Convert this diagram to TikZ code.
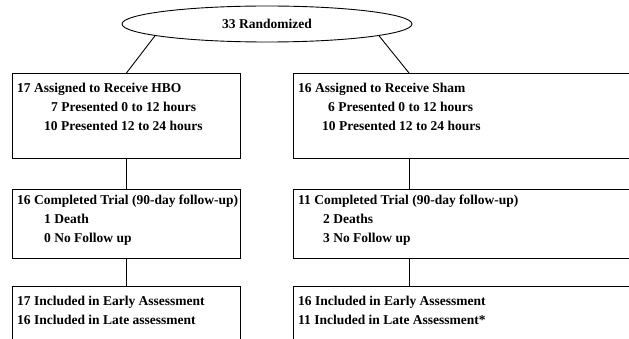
\documentclass[tikz,border=0pt]{standalone}
\usepackage{fontspec}
\setmainfont{Liberation Serif}
\usetikzlibrary{shapes.geometric}
\begin{document}
\begin{tikzpicture}[x=1pt,y=-1pt,
  box/.style={draw,line width=0.9pt,rectangle,inner sep=0pt,anchor=north west},
  txt/.style={anchor=base west,inner sep=0pt,font=\fontsize{13.5}{15}\selectfont\bfseries},
  link/.style={line width=0.9pt}]
\useasboundingbox (0,0) rectangle (629,339);
\begin{scope}
\clip (0,0) rectangle (629,339);
\node[draw,ellipse,line width=0.9pt,minimum width=290pt,minimum height=36pt,inner sep=0pt,
  font=\fontsize{13.5}{15}\selectfont\bfseries] (rand) at (267,24) {33 Randomized};
\node[box,minimum width=228pt,minimum height=85pt] (hbo) at (12,73) {};
\node[box,minimum width=340pt,minimum height=85pt] (sham) at (293,73) {};
\node[box,minimum width=228pt,minimum height=69pt] (done1) at (12,189) {};
\node[box,minimum width=340pt,minimum height=69pt] (done2) at (293,189) {};
\node[box,minimum width=228pt,minimum height=70pt] (incl1) at (12,286) {};
\node[box,minimum width=340pt,minimum height=70pt] (incl2) at (293,286) {};
\coordinate (rc) at (409,0);
\draw[link] (rand.186) -- (hbo.north);
\draw[link] (rand.354) -- (sham.north -| rc);
\draw[link] (hbo.south) -- (done1.north);
\draw[link] (done1.south) -- (incl1.north);
\draw[link] (sham.south -| rc) -- (done2.north -| rc);
\draw[link] (done2.south -| rc) -- (incl2.north -| rc);
\end{scope}
\node[txt] (t1) at (17,93) {17 Assigned to Receive HBO};
\node[txt] (t2) at (51,112) {7 Presented 0 to 12 hours};
\node[txt] (t3) at (44,131) {10 Presented 12 to 24 hours};
\node[txt] (t4) at (298,93) {16 Assigned to Receive Sham};
\node[txt] (t5) at (328,112) {6 Presented 0 to 12 hours};
\node[txt] (t6) at (322,131) {10 Presented 12 to 24 hours};
\node[txt] (t7) at (17,205) {16 Completed Trial (90-day follow-up)};
\node[txt] (t8) at (44,224) {1 Death};
\node[txt] (t9) at (44,243) {0 No Follow up};
\node[txt] (t10) at (298,205) {11 Completed Trial (90-day follow-up)};
\node[txt] (t11) at (323,224) {2 Deaths};
\node[txt] (t12) at (323,243) {3 No Follow up};
\node[txt] (t13) at (17,305) {17 Included in Early Assessment};
\node[txt] (t14) at (17,324) {16 Included in Late assessment};
\node[txt] (t15) at (298,305) {16 Included in Early Assessment};
\node[txt] (t16) at (298,324) {11 Included in Late Assessment*};
\end{tikzpicture}
\end{document}
